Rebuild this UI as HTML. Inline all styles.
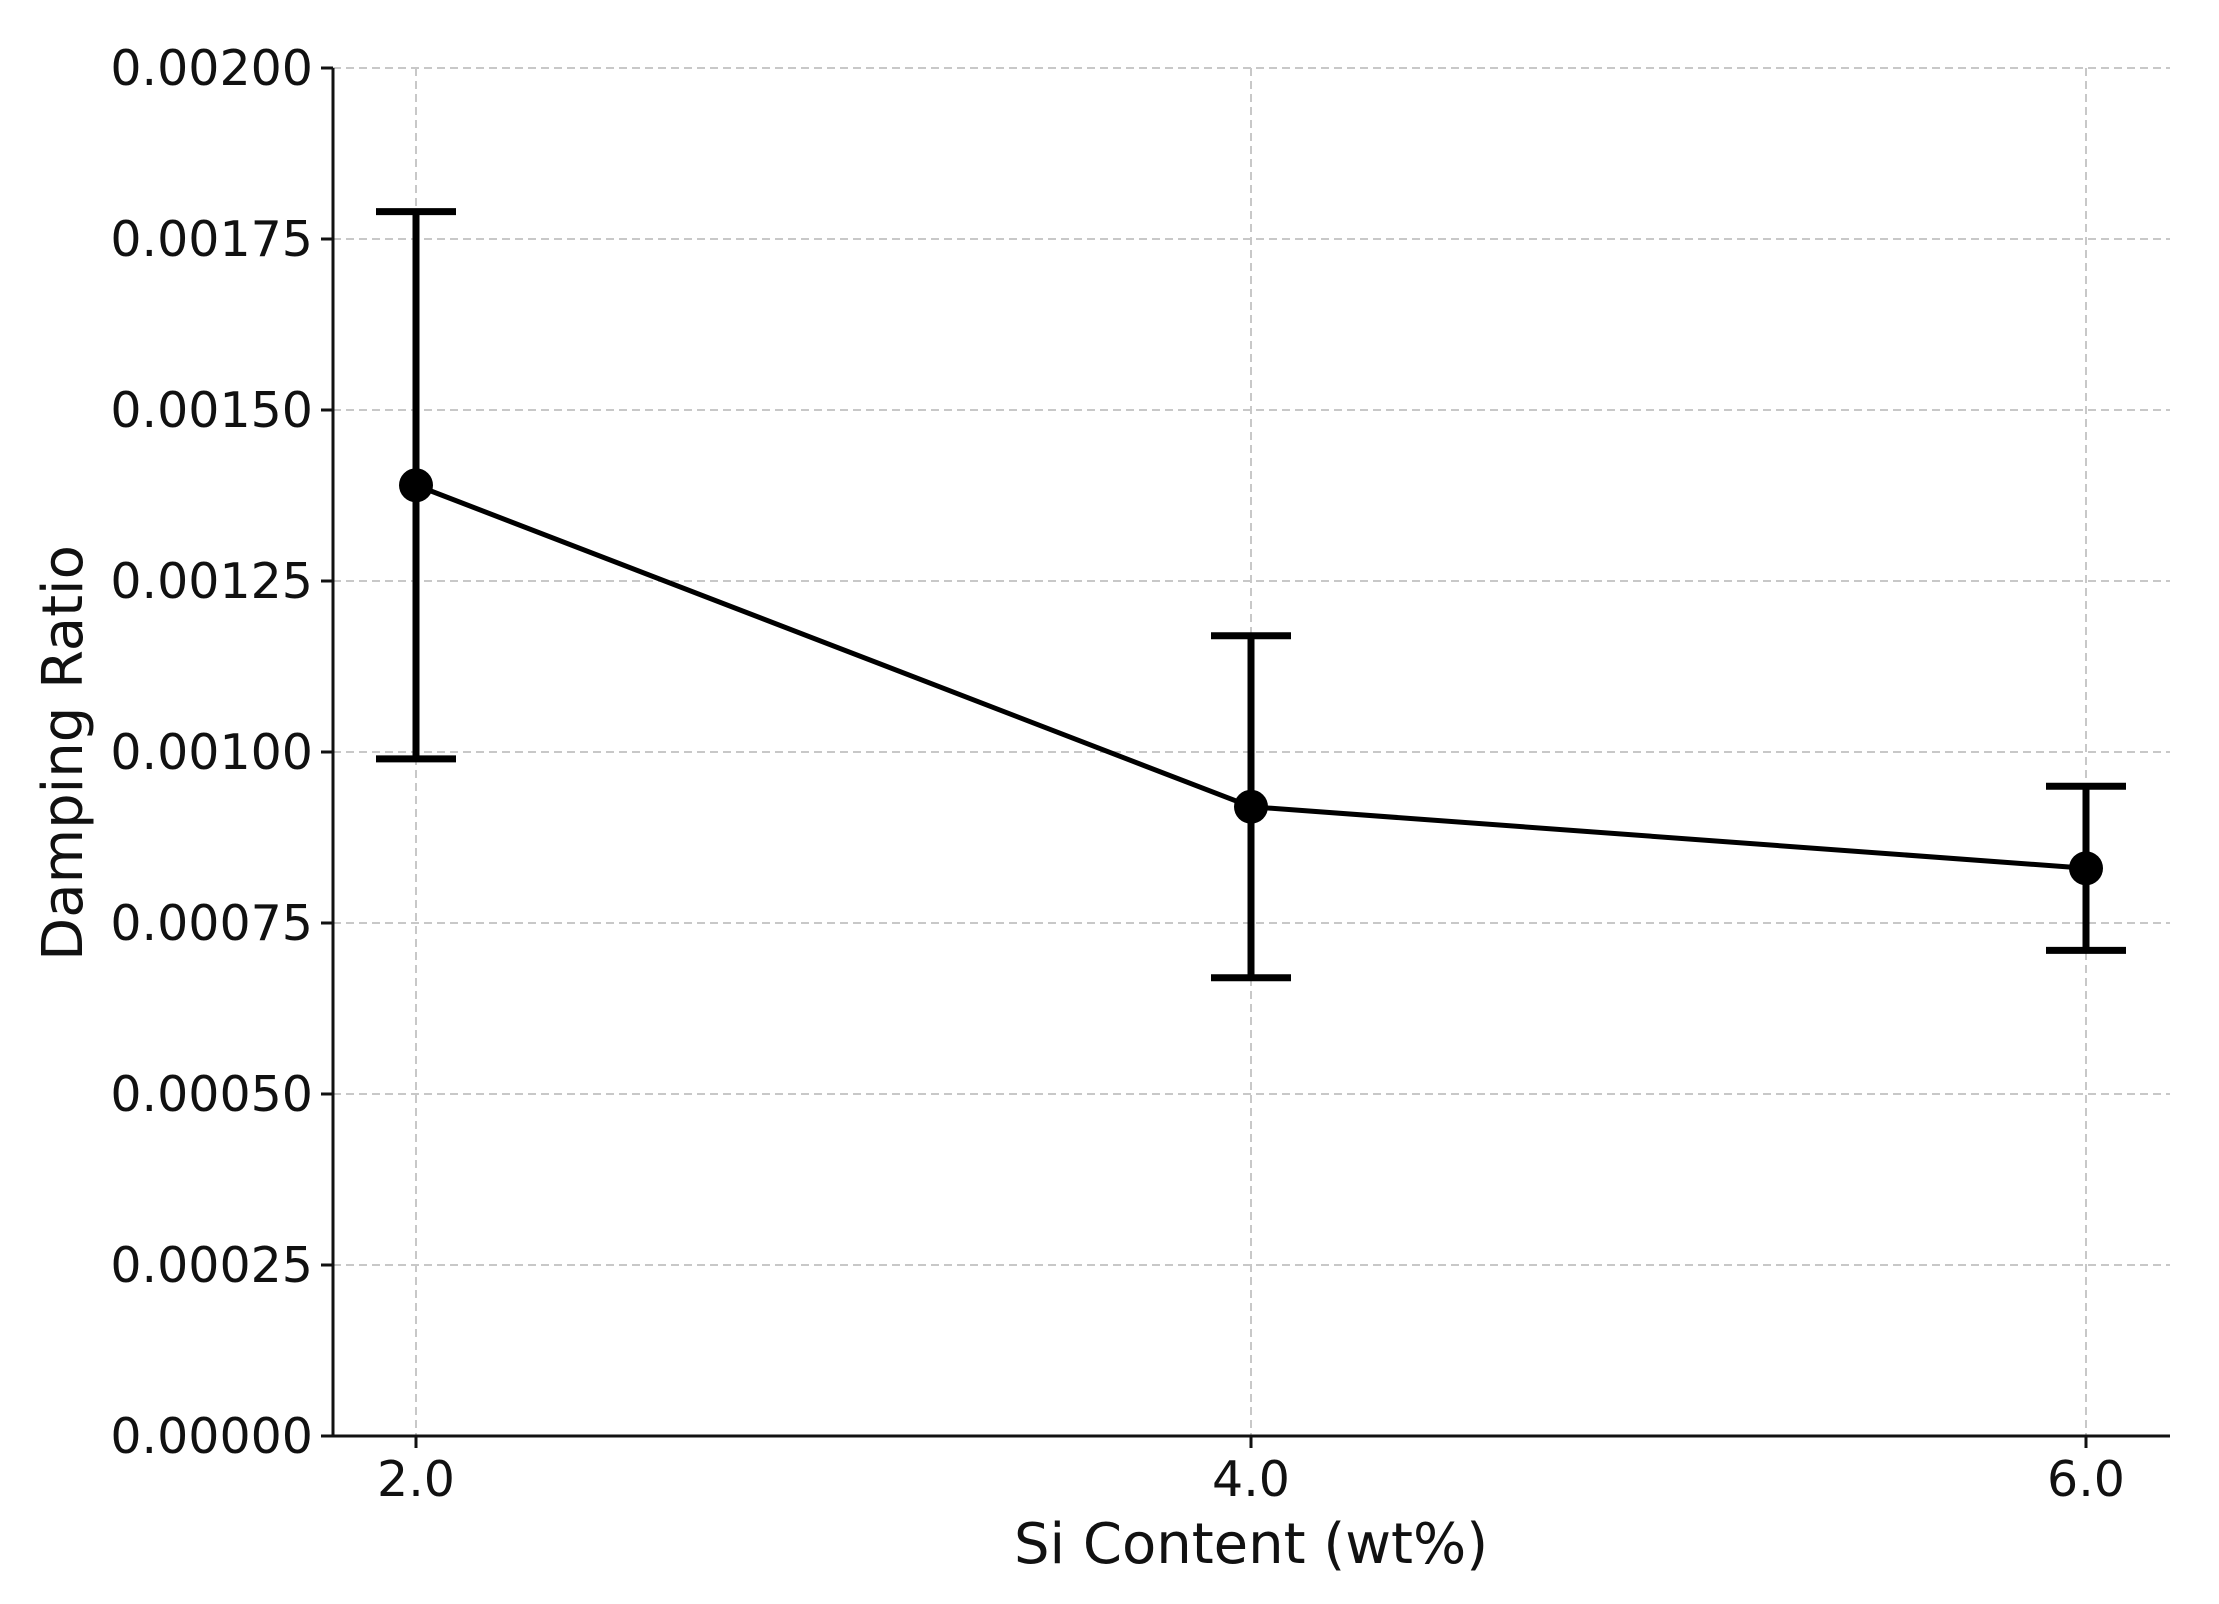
<!DOCTYPE html>
<html><head><meta charset="utf-8"><style>
html,body{margin:0;padding:0;background:#fff;}
svg{display:block;font-family:"DejaVu Sans","Liberation Sans",sans-serif;}
</style></head><body>
<svg id="chart" width="2219" height="1604" viewBox="0 0 2219 1604">
<g id="grid"></g>
<g id="axes"></g>
<g id="series"></g>
<text x="1251" y="1563" font-size="56" text-anchor="middle" fill="#111">Si Content (wt%)</text>
<text x="0" y="0" font-size="56" text-anchor="middle" fill="#111" transform="translate(82,753) rotate(-90)">Damping Ratio</text>
</svg>
<script>
const categories = [2.0, 4.0, 6.0];
const values = [0.00139, 0.00092, 0.00083];
const errors = [0.0004, 0.00025, 0.00012];
const yTicks = [0, 0.00025, 0.0005, 0.00075, 0.001, 0.00125, 0.0015, 0.00175, 0.002];
const yTickLabels = ["0.00000","0.00025","0.00050","0.00075","0.00100","0.00125","0.00150","0.00175","0.00200"];
const xTicks = [2, 4, 6];
const xTickLabels = ["2.0","4.0","6.0"];

const L=333,R=2170,T=68,B=1436;
const xs=v=>416+(v-2)*(2086-416)/4;
const ys=v=>B-(v/0.002)*(B-T);
const NS="http://www.w3.org/2000/svg";
function mk(tag,parent,attrs){const e=document.createElementNS(NS,tag);for(const k in attrs)e.setAttribute(k,attrs[k]);parent.appendChild(e);return e;}
const grid=document.getElementById('grid'),axes=document.getElementById('axes'),series=document.getElementById('series');
yTicks.forEach((t,i)=>{
  const y=ys(t);
  const g=mk('line',grid,{x1:L,x2:R,y1:y,y2:y,stroke:'#c8c8c8','stroke-width':2,'stroke-dasharray':'8,5'});
  
  
  const tk=mk('line',axes,{x1:L-12,x2:L,y1:y,y2:y,stroke:'#111','stroke-width':3});
  
  
  const tx=mk('text',axes,{x:L-20,y:y+17,'font-size':49,'text-anchor':'end',fill:'#111'});
  tx.textContent=yTickLabels[i];
  
  
});
xTicks.forEach((t,i)=>{
  const x=xs(t);
  const g=mk('line',grid,{x1:x,x2:x,y1:T,y2:B,stroke:'#c8c8c8','stroke-width':2,'stroke-dasharray':'8,5'});
  
  
  const tk=mk('line',axes,{x1:x,x2:x,y1:B,y2:B+12,stroke:'#111','stroke-width':3});
  
  
  const tx=mk('text',axes,{x:x,y:B+60,'font-size':49,'text-anchor':'middle',fill:'#111'});
  tx.textContent=xTickLabels[i];
  
  
});
const la=mk('line',axes,{x1:L,x2:L,y1:T,y2:B,stroke:'#111','stroke-width':3});


const ba=mk('line',axes,{x1:L,x2:R,y1:B,y2:B,stroke:'#111','stroke-width':3});



const pts=categories.map((c,i)=>xs(c)+','+ys(values[i])).join(' ');
const pl=mk('polyline',series,{points:pts,fill:'none',stroke:'#000','stroke-width':5});


categories.forEach((c,i)=>{
  const x=xs(c),y1=ys(values[i]+errors[i]),y2=ys(values[i]-errors[i]);
  const eb=mk('line',series,{x1:x,x2:x,y1:y1,y2:y2,stroke:'#000','stroke-width':7});
  
  
  [y1,y2].forEach(yy=>{
    const cp=mk('line',series,{x1:x-40,x2:x+40,y1:yy,y2:yy,stroke:'#000','stroke-width':7});
    
    
  });
  const p=mk('circle',series,{cx:x,cy:ys(values[i]),r:17,fill:'#000'});
  
  
});
</script>
</body></html>
